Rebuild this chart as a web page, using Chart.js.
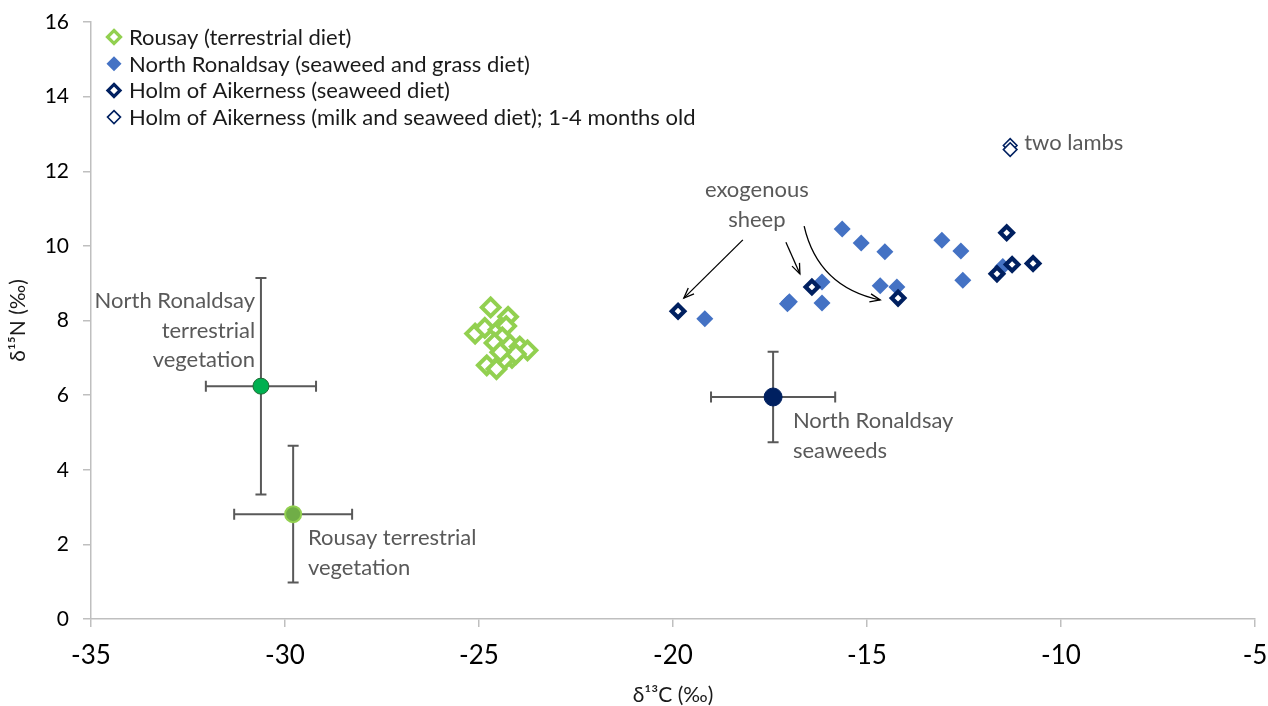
<!DOCTYPE html>
<html>
<head>
<meta charset="utf-8">
<title>Sheep bone collagen isotopes</title>
<script src="https://cdn.jsdelivr.net/npm/chart.js@4.4.1/dist/chart.umd.min.js"></script>
<style>
  html, body { margin: 0; padding: 0; background: #fff; }
  #wrap { width: 1268px; height: 706px; }
</style>
</head>
<body>
<div id="wrap"><canvas id="chart"></canvas></div>
<script>
// values (d13C, d15N)
const rousayX = [-24.7, -24.25, -25.1, -24.85, -24.5, -24.3, -24.4, -24.6, -24.2, -23.95, -23.75, -24.15, -24.35, -24.8, -24.55, -24.05, -24.45];
const rousayY = [8.35, 8.1, 7.65, 7.8, 7.75, 7.85, 7.55, 7.4, 7.35, 7.3, 7.2, 7.0, 6.95, 6.8, 6.7, 7.1, 7.15];

const nrX = [-19.18, -17.05, -17.0, -16.16, -16.16, -15.64, -15.15, -14.54, -14.66, -14.23, -13.07, -12.58, -12.53, -11.5];
const nrY = [8.05, 8.45, 8.5, 9.03, 8.47, 10.45, 10.08, 9.84, 8.93, 8.9, 10.15, 9.86, 9.08, 9.45];

const holmX = [-19.87, -16.42, -14.2, -11.4, -11.65, -11.26, -10.72];
const holmY = [8.25, 8.9, 8.6, 10.35, 9.25, 9.5, 9.53];

const lambX = [-11.31, -11.31];
const lambY = [12.69, 12.58];

// plant means with standard deviations
const vegNames = ["North Ronaldsay terrestrial vegetation", "Rousay terrestrial vegetation", "North Ronaldsay seaweeds"];
const vegX = [-30.62, -29.79, -17.42];
const vegY = [6.24, 2.81, 5.95];
const vegSdX = [1.42, 1.52, 1.6];
const vegSdY = [2.9, 1.83, 1.21];

const xTicks = [-35, -30, -25, -20, -15, -10, -5];
const yTicks = [0, 2, 4, 6, 8, 10, 12, 14, 16];

function pts(xs, ys) {
    return xs.map((x, i) => ({ x: x, y: ys[i] }));
}

const font = "Lato, 'Open Sans', sans-serif";
const grey = "#595959";

// label text placed in data units
const notes = [
    { text: "North Ronaldsay", x: -30.77, y: 8.52, align: "right" },
    { text: "terrestrial", x: -30.77, y: 7.72, align: "right" },
    { text: "vegetation", x: -30.77, y: 6.94, align: "right" },
    { text: "Rousay terrestrial", x: -29.41, y: 2.17, align: "left" },
    { text: "vegetation", x: -29.41, y: 1.37, align: "left" },
    { text: "North Ronaldsay", x: -16.91, y: 5.31, align: "left" },
    { text: "seaweeds", x: -16.91, y: 4.50, align: "left" },
    { text: "exogenous", x: -17.84, y: 11.5, align: "center" },
    { text: "sheep", x: -17.84, y: 10.69, align: "center" },
    { text: "two lambs", x: -10.95, y: 12.76, align: "left" }
];

const arrows = [
    { from: [-18.2, 10.16], to: [-19.72, 8.6] },
    { from: [-17.09, 10.1], to: [-16.73, 9.25] },
    { from: [-16.62, 10.53], ctrl: [-16.26, 8.9], to: [-14.66, 8.55] }
];

const errorBars = {
    id: "errorBars",
    beforeDatasetsDraw(chart) {
        const { ctx, scales: { x, y } } = chart;
        ctx.save();
        ctx.strokeStyle = grey;
        ctx.lineWidth = 2;
        const cap = 5.5;
        vegX.forEach((vx, i) => {
            const cx = x.getPixelForValue(vx);
            const cy = y.getPixelForValue(vegY[i]);
            const x0 = x.getPixelForValue(vx - vegSdX[i]);
            const x1 = x.getPixelForValue(vx + vegSdX[i]);
            const y0 = y.getPixelForValue(vegY[i] + vegSdY[i]);
            const y1 = y.getPixelForValue(vegY[i] - vegSdY[i]);
            ctx.beginPath();
            ctx.moveTo(x0, cy); ctx.lineTo(x1, cy);
            ctx.moveTo(x0, cy - cap); ctx.lineTo(x0, cy + cap);
            ctx.moveTo(x1, cy - cap); ctx.lineTo(x1, cy + cap);
            ctx.moveTo(cx, y0); ctx.lineTo(cx, y1);
            ctx.moveTo(cx - cap, y0); ctx.lineTo(cx + cap, y0);
            ctx.moveTo(cx - cap, y1); ctx.lineTo(cx + cap, y1);
            ctx.stroke();
        });
        ctx.restore();
    }
};

function arrowHead(ctx, tx, ty, fx, fy) {
    const ang = Math.atan2(ty - fy, tx - fx);
    const len = 11, spread = 0.38;
    ctx.beginPath();
    ctx.moveTo(tx - len * Math.cos(ang - spread), ty - len * Math.sin(ang - spread));
    ctx.lineTo(tx, ty);
    ctx.lineTo(tx - len * Math.cos(ang + spread), ty - len * Math.sin(ang + spread));
    ctx.stroke();
}

const notesPlugin = {
    id: "notes",
    afterDatasetsDraw(chart) {
        const { ctx, scales: { x, y } } = chart;
        ctx.save();
        ctx.font = "22px " + font;
        ctx.fillStyle = grey;
        ctx.textBaseline = "middle";
        notes.forEach(n => {
            ctx.textAlign = n.align;
            ctx.fillText(n.text, x.getPixelForValue(n.x), y.getPixelForValue(n.y));
        });

        ctx.strokeStyle = "#000";
        ctx.lineWidth = 1.3;
        arrows.forEach(a => {
            const fx = x.getPixelForValue(a.from[0]), fy = y.getPixelForValue(a.from[1]);
            const tx = x.getPixelForValue(a.to[0]), ty = y.getPixelForValue(a.to[1]);
            ctx.beginPath();
            ctx.moveTo(fx, fy);
            let px = fx, py = fy;
            if (a.ctrl) {
                const cx = x.getPixelForValue(a.ctrl[0]), cy = y.getPixelForValue(a.ctrl[1]);
                ctx.quadraticCurveTo(cx, cy, tx, ty);
                px = cx; py = cy;
            } else {
                ctx.lineTo(tx, ty);
            }
            ctx.stroke();
            arrowHead(ctx, tx, ty, px, py);
        });
        ctx.restore();
    }
};

function diamond(ctx, cx, cy, r, fill, stroke, lw) {
    ctx.beginPath();
    ctx.moveTo(cx, cy - r);
    ctx.lineTo(cx + r, cy);
    ctx.lineTo(cx, cy + r);
    ctx.lineTo(cx - r, cy);
    ctx.closePath();
    ctx.fillStyle = fill;
    ctx.fill();
    if (lw > 0) {
        ctx.strokeStyle = stroke;
        ctx.lineWidth = lw;
        ctx.stroke();
    }
}

const legendBox = {
    id: "legendBox",
    afterDraw(chart) {
        const { ctx } = chart;
        ctx.save();
        ctx.font = "22px " + font;
        ctx.textBaseline = "middle";
        ctx.textAlign = "left";
        let row = 0;
        chart.data.datasets.forEach(ds => {
            if (!ds.inLegend) return;
            const cy = 37 + row * 26.7;
            const lw = ds.borderWidth > 2 ? 3.2 : ds.borderWidth;
            diamond(ctx, 114, cy, ds.legendR, ds.backgroundColor, ds.borderColor, lw);
            ctx.fillStyle = "#1a1a1a";
            ctx.fillText(ds.label, 129, cy + 1);
            row++;
        });
        ctx.restore();
    }
};

const datasets = [
    {
        label: "Rousay (terrestrial diet)",
        data: pts(rousayX, rousayY),
        pointStyle: "rectRot", pointRadius: 8.8, pointHoverRadius: 8.8,
        backgroundColor: "#ffffff", borderColor: "#92D050", borderWidth: 4,
        order: 4, inLegend: true, legendR: 6.5
    },
    {
        label: "North Ronaldsay (seaweed and grass diet)",
        data: pts(nrX, nrY),
        pointStyle: "rectRot", pointRadius: 8.5, pointHoverRadius: 8.5,
        backgroundColor: "#4472C4", borderColor: "#4472C4", borderWidth: 0,
        order: 3, inLegend: true, legendR: 7.5
    },
    {
        label: "Holm of Aikerness (seaweed diet)",
        data: pts(holmX, holmY),
        pointStyle: "rectRot", pointRadius: 6.3, pointHoverRadius: 6.3,
        backgroundColor: "#ffffff", borderColor: "#002060", borderWidth: 4.2,
        order: 2, inLegend: true, legendR: 6
    },
    {
        label: "Holm of Aikerness (milk and seaweed diet); 1-4 months old",
        data: pts(lambX, lambY),
        pointStyle: "rectRot", pointRadius: 6.8, pointHoverRadius: 6.8,
        backgroundColor: "#ffffff", borderColor: "#002060", borderWidth: 1.6,
        order: 1, inLegend: true, legendR: 6.5
    },
    {
        label: vegNames[0],
        data: [{ x: vegX[0], y: vegY[0] }],
        pointStyle: "circle", pointRadius: 8, pointHoverRadius: 8,
        backgroundColor: "#00B050", borderColor: "#1E6B34", borderWidth: 1,
        order: 0
    },
    {
        label: vegNames[1],
        data: [{ x: vegX[1], y: vegY[1] }],
        pointStyle: "circle", pointRadius: 8, pointHoverRadius: 8,
        backgroundColor: "#70AD47", borderColor: "#92D050", borderWidth: 2,
        order: 0
    },
    {
        label: vegNames[2],
        data: [{ x: vegX[2], y: vegY[2] }],
        pointStyle: "circle", pointRadius: 9, pointHoverRadius: 9,
        backgroundColor: "#002060", borderColor: "#002060", borderWidth: 1,
        order: 0
    }
];

new Chart(document.getElementById("chart"), {
    type: "scatter",
    data: { datasets: datasets },
    options: {
        responsive: true,
        maintainAspectRatio: false,
        animation: false,
        layout: { padding: { top: 22, right: 13, left: 0, bottom: 0 } },
        plugins: {
            legend: { display: false },
            tooltip: { enabled: false }
        },
        scales: {
            x: {
                type: "linear",
                min: -35, max: -5,
                afterBuildTicks(scale) { scale.ticks = xTicks.map(v => ({ value: v })); },
                afterFit(scale) {
                    scale.height = 87;
                    scale.paddingLeft = 0;
                    scale.paddingRight = 0;
                },
                border: { color: "#BFBFBF", width: 1.5 },
                grid: { drawOnChartArea: false, drawTicks: true, tickLength: 8, color: "#BFBFBF", lineWidth: 1.5 },
                ticks: { color: "#000", font: { family: font, size: 26 }, padding: 13 },
                title: { display: true, text: "δ¹³C (‰)", color: "#1a1a1a", font: { family: font, size: 21, lineHeight: 1 }, padding: { top: 0, bottom: 0 } }
            },
            y: {
                type: "linear",
                min: 0, max: 16,
                afterBuildTicks(scale) { scale.ticks = yTicks.map(v => ({ value: v })); },
                afterFit(scale) {
                    scale.width = 91;
                    scale.paddingTop = 0;
                    scale.paddingBottom = 0;
                },
                border: { color: "#BFBFBF", width: 1.5 },
                grid: { drawOnChartArea: false, drawTicks: true, tickLength: 8, color: "#BFBFBF", lineWidth: 1.5 },
                ticks: { color: "#000", font: { family: font, size: 21 }, padding: 14 },
                title: { display: true, text: "δ¹⁵N (‰)", color: "#1a1a1a", font: { family: font, size: 21, lineHeight: 1 }, padding: { top: 8, bottom: 0 } }
            }
        }
    },
    plugins: [errorBars, notesPlugin, legendBox]
});
</script>
</body>
</html>
